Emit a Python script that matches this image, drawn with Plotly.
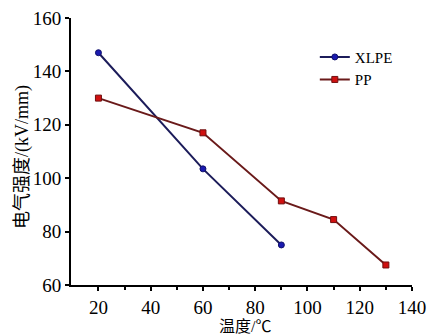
import plotly.graph_objects as go

xlpe_x = [20, 60, 90]
xlpe_y = [147, 103.5, 75]
pp_x = [20, 60, 90, 110, 130]
pp_y = [130, 117, 91.5, 84.5, 67.5]

x_ticks = [20, 40, 60, 80, 100, 120, 140]
x_minor = [30, 50, 70, 90, 110, 130]
y_ticks = [60, 80, 100, 120, 140, 160]

font_fam = "Liberation Serif, Noto Sans CJK SC, serif"

fig = go.Figure()
fig.add_trace(go.Scatter(
    x=xlpe_x, y=xlpe_y, name="XLPE", mode="lines+markers",
    line=dict(color="#1c1c5a", width=2),
    marker=dict(symbol="circle", size=6, color="#1a1ab0", line=dict(color="#10106a", width=1)),
))
fig.add_trace(go.Scatter(
    x=pp_x, y=pp_y, name="PP", mode="lines+markers",
    line=dict(color="#6a1a1a", width=2),
    marker=dict(symbol="square", size=6, color="#d01010", line=dict(color="#701010", width=1)),
))

L, R, T, B = 71, 412, 18, 285

fig.update_layout(
    width=430, height=335,
    margin=dict(l=L, r=430 - R, t=T, b=335 - B),
    paper_bgcolor="white", plot_bgcolor="white",
    font=dict(family=font_fam, color="black"),
    showlegend=True,
    legend=dict(x=0.715, y=0.915, xanchor="left", yanchor="top",
                bgcolor="rgba(0,0,0,0)", font=dict(size=15, family=font_fam, color="black"),
                itemwidth=30, tracegroupgap=0),
    xaxis=dict(
        range=[9.5, 140], tickvals=x_ticks, ticks="outside", ticklen=4, tickwidth=1.5,
        tickcolor="black", automargin=False,
        showline=True, linecolor="black", linewidth=2, showgrid=False, zeroline=False,
        tickfont=dict(size=19, family=font_fam, color="black"),
        minor=dict(tickvals=x_minor, ticks="outside", ticklen=3, tickcolor="black"),
    ),
    yaxis=dict(
        range=[60, 160], tickvals=y_ticks, ticks="outside", ticklen=4, tickwidth=1.5,
        tickcolor="black", automargin=False,
        showline=True, linecolor="black", linewidth=2, showgrid=False, zeroline=False,
        tickfont=dict(size=19, family=font_fam, color="black"),
    ),
    annotations=[
        dict(text="温度/℃", x=(245 - L) / (R - L), y=(B - 326) / (B - T),
             xref="paper", yref="paper", showarrow=False, xanchor="center", yanchor="middle",
             font=dict(size=16, family=font_fam, color="black")),
        dict(text="电气强度/(kV/mm)", x=(23 - L) / (R - L), y=(B - 157) / (B - T),
             xref="paper", yref="paper", showarrow=False, xanchor="center", yanchor="middle",
             textangle=-90, font=dict(size=18, family=font_fam, color="black")),
    ],
)

fig.write_html("out.html", config={"displayModeBar": False},
               post_script="document.body.style.margin='0';")
